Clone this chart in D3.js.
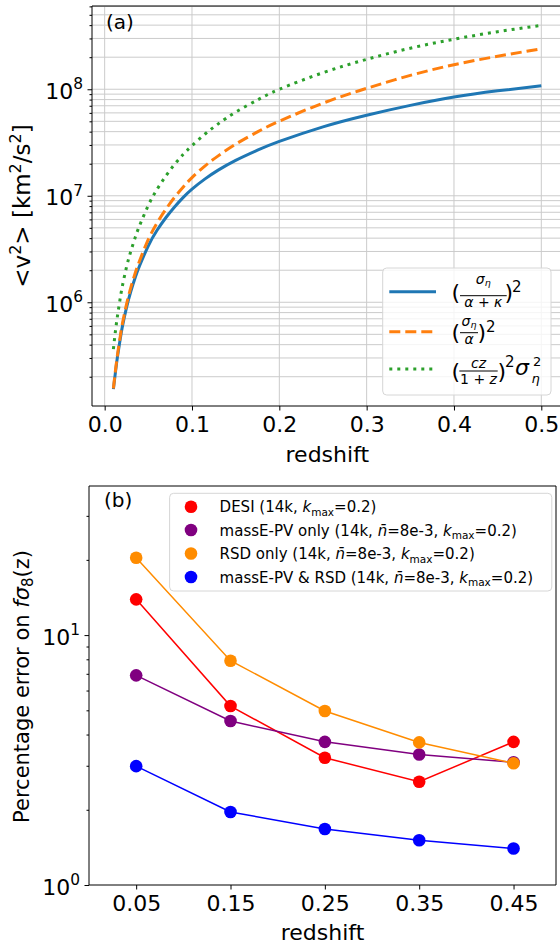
<!DOCTYPE html>
<html><head><meta charset="utf-8">
<script src="https://cdn.jsdelivr.net/npm/d3@7"></script>
<style>body{margin:0;background:#fff}svg{display:block}text{font-family:"DejaVu Sans",sans-serif;fill:#000}</style>
</head><body><svg id="c" width="560" height="945"></svg>
<script>
// ---------- Panel (a) data: <v^2> [km^2/s^2] vs redshift ----------
const zGrid       = [0.01,0.0125,0.015,0.0175,0.02,0.025,0.03,0.035,0.04,0.05,0.06,0.07,0.08,0.09,0.1,0.115,0.13,0.15,0.175,0.2,0.25,0.3,0.35,0.4,0.45,0.5];
const vAlphaKappa = [1.53e5,2.26e5,3.21e5,4.35e5,5.75e5,8.91e5,1.27e6,1.71e6,2.20e6,3.39e6,4.74e6,6.22e6,7.86e6,9.66e6,1.155e7,1.44e7,1.74e7,2.15e7,2.68e7,3.24e7,4.44e7,5.71e7,7.06e7,8.45e7,9.66e7,1.08e8];
const vAlpha      = [1.55e5,2.34e5,3.35e5,4.57e5,6.10e5,9.55e5,1.38e6,1.88e6,2.45e6,3.89e6,5.56e6,7.46e6,9.66e6,1.21e7,1.48e7,1.91e7,2.37e7,3.05e7,3.98e7,5.01e7,7.41e7,1.02e8,1.35e8,1.70e8,2.04e8,2.40e8];
const vCz         = [3.63e5,5.50e5,7.76e5,1.05e6,1.38e6,2.14e6,3.02e6,4.07e6,5.25e6,8.13e6,1.15e7,1.53e7,1.97e7,2.45e7,2.95e7,3.80e7,4.73e7,6.10e7,7.94e7,1.00e8,1.43e8,1.91e8,2.43e8,2.95e8,3.47e8,3.98e8];
const xTicksA = [0,0.1,0.2,0.3,0.4,0.5];
const yMajorA = [1e6,1e7,1e8];

// ---------- Panel (b) data: percentage error on f sigma8 ----------
const zBins    = [0.05,0.15,0.25,0.35,0.45];
const desi     = [13.9,5.2,3.23,2.59,3.74];
const massPV   = [6.9,4.53,3.74,3.33,3.10];
const rsdOnly  = [20.4,7.9,4.97,3.72,3.07];
const combined = [2.99,1.96,1.675,1.51,1.40];
const xTicksB  = [0.05,0.15,0.25,0.35,0.45];
const yMajorB  = [1,10];

const svg = d3.select("#c");
const FS = 22;

function minorLogTicks(dom){
  const out=[];
  for(let e=Math.floor(Math.log10(dom[0]));e<=Math.ceil(Math.log10(dom[1]));e++){
    for(let m=1;m<10;m++){const v=m*Math.pow(10,e); if(v>=dom[0]&&v<=dom[1]) out.push(v);}
  }
  return out;
}
function supLabel(g,x,y,base,exp,size){
  const t=g.append("text").attr("x",x).attr("y",y).attr("text-anchor","end").style("font-size",size+"px");
  t.append("tspan").text(base);
  t.append("tspan").attr("dy",-0.44*size).style("font-size",(size*0.7)+"px").text(exp);
}

// ================= PANEL A =================
const A={l:92,r:562.7,t:6,b:406};
const xA=d3.scaleLinear().domain([-0.0145,0.5245]).range([A.l,A.r]);
const yDomA=[1.062e5,6.05e8];
const yA=d3.scaleLog().domain(yDomA).range([A.b,A.t]);
const gA=svg.append("g");
const allYA=minorLogTicks(yDomA);
gA.selectAll(".gy").data(allYA).enter().append("line")
  .attr("x1",A.l).attr("x2",A.r).attr("y1",d=>yA(d)).attr("y2",d=>yA(d))
  .attr("stroke","#cbcbcb").attr("stroke-width",1);
gA.selectAll(".gx").data(xTicksA).enter().append("line")
  .attr("x1",d=>xA(d)).attr("x2",d=>xA(d)).attr("y1",A.t).attr("y2",A.b)
  .attr("stroke","#cbcbcb").attr("stroke-width",1);

const lineA=d3.line().x((d,i)=>xA(zGrid[i])).y(d=>yA(d)).curve(d3.curveNatural);
gA.append("path").attr("d",lineA(vAlphaKappa)).attr("fill","none").attr("stroke","#1f77b4").attr("stroke-width",3);
gA.append("path").attr("d",lineA(vAlpha)).attr("fill","none").attr("stroke","#ff7f0e").attr("stroke-width",3).attr("stroke-dasharray","11,5");
gA.append("path").attr("d",lineA(vCz)).attr("fill","none").attr("stroke","#2ca02c").attr("stroke-width",3).attr("stroke-dasharray","3,5");

const axXA=gA.append("g").attr("transform",`translate(0,${A.b})`)
  .call(d3.axisBottom(xA).tickValues(xTicksA).tickFormat(d3.format(".1f")).tickSize(4.5).tickPadding(6));
const axYAmin=gA.append("g").attr("transform",`translate(${A.l},0)`)
  .call(d3.axisLeft(yA).tickValues(allYA.filter(v=>!yMajorA.includes(v))).tickFormat("").tickSize(2.5));
const axYA=gA.append("g").attr("transform",`translate(${A.l},0)`)
  .call(d3.axisLeft(yA).tickValues(yMajorA).tickFormat("").tickSize(4.5));
[axXA,axYA,axYAmin].forEach(a=>{a.select(".domain").remove();a.selectAll("line").attr("stroke","#000");a.selectAll("text").style("font-size",FS+"px").style("font-family","DejaVu Sans");});
yMajorA.forEach(v=>supLabel(gA,A.l-9,yA(v)+0.44*FS,"10",String(Math.round(Math.log10(v))),FS));
gA.append("path").attr("d",`M${A.l},${A.t}H${A.r}V${A.b}H${A.l}Z`).attr("fill","none").attr("stroke","#000").attr("stroke-width",1);
gA.append("text").attr("x",(A.l+A.r)/2).attr("y",461.5).attr("text-anchor","middle").style("font-size",FS+"px").text("redshift");
{
  const t=gA.append("text").attr("transform",`translate(30,${(A.t+A.b)/2}) rotate(-90)`).attr("text-anchor","middle").style("font-size","23px");
  t.append("tspan").text("<v");
  t.append("tspan").attr("dy",-9.5).style("font-size","16px").text("2");
  t.append("tspan").attr("dy",9.5).text("> [km");
  t.append("tspan").attr("dy",-9.5).style("font-size","16px").text("2");
  t.append("tspan").attr("dy",9.5).text("/s");
  t.append("tspan").attr("dy",-9.5).style("font-size","16px").text("2");
  t.append("tspan").attr("dy",9.5).text("]");
}
gA.append("text").attr("x",106).attr("y",29).style("font-size","20px").text("(a)");

// legend A
{
  const lg=gA.append("g");
  lg.append("rect").attr("x",382.7).attr("y",268).attr("width",168.3).attr("height",127).attr("rx",4)
    .attr("fill","#fff").attr("fill-opacity",0.8).attr("stroke","#d6d6d6").attr("stroke-width",1);
  const rows=[{c:"#1f77b4",d:null,y:291.7},{c:"#ff7f0e",d:"11,5",y:331.7},{c:"#2ca02c",d:"3,5",y:369}];
  rows.forEach(r=>{const l=lg.append("line").attr("x1",389.3).attr("x2",436).attr("y1",r.y).attr("y2",r.y).attr("stroke",r.c).attr("stroke-width",3); if(r.d) l.attr("stroke-dasharray",r.d);});
  const T=(x,y,size,anchor)=>lg.append("text").attr("x",x).attr("y",y).attr("text-anchor",anchor||"start").style("font-size",size+"px");
  const bar=(x1,x2,y)=>lg.append("line").attr("x1",x1).attr("x2",x2).attr("y1",y).attr("y2",y).attr("stroke","#000").attr("stroke-width",1);
  function sigEta(t){t.append("tspan").style("font-style","italic").text("σ");t.append("tspan").attr("dy",2).style("font-size","9.5px").style("font-style","italic").text("η");}
  // row 1
  T(451.5,300.4,22).text("(");
  sigEta(T(483.3,283.5,14,"middle"));
  bar(460,506.7,295.7);
  {const t=T(483.3,306.8,14,"middle");t.append("tspan").style("font-style","italic").text("α");t.append("tspan").text(" + ");t.append("tspan").style("font-style","italic").text("κ");}
  T(504.5,300.4,22).text(")");
  T(512,291.5,15).text("2");
  // row 2
  T(451.5,340.4,22).text("(");
  sigEta(T(469,326.3,14,"middle"));
  bar(460,478,332.7);
  T(469,343.6,14,"middle").style("font-style","italic").text("α");
  T(477.5,340.4,22).text(")");
  T(486,331.7,15).text("2");
  // row 3
  T(451.5,379,22).text("(");
  T(478.5,368.3,14,"middle").style("font-style","italic").text("cz");
  bar(459.3,497.7,371);
  {const t=T(478.5,383.6,14,"middle");t.append("tspan").text("1 + ");t.append("tspan").style("font-style","italic").text("z");}
  T(497.5,379,22).text(")");
  T(505,366.5,15).text("2");
  T(515,375,22).style("font-style","italic").text("σ");
  T(531.5,382.5,13).style("font-style","italic").text("η");
  T(533,365.5,13).text("2");
}

// ================= PANEL B =================
const B={l:89,r:556,t:486,b:885};
const xB=d3.scaleLinear().domain([0,0.495]).range([B.l,B.r]);
const yDomB=[1,39.5];
const yB=d3.scaleLog().domain(yDomB).range([B.b,B.t]);
const gB=svg.append("g");
const allYB=minorLogTicks(yDomB);
const axXB=gB.append("g").attr("transform",`translate(0,${B.b})`)
  .call(d3.axisBottom(xB).tickValues(xTicksB).tickFormat(d3.format(".2f")).tickSize(4.5).tickPadding(6));
const axYBmin=gB.append("g").attr("transform",`translate(${B.l},0)`)
  .call(d3.axisLeft(yB).tickValues(allYB.filter(v=>!yMajorB.includes(v))).tickFormat("").tickSize(2.5));
const axYB=gB.append("g").attr("transform",`translate(${B.l},0)`)
  .call(d3.axisLeft(yB).tickValues(yMajorB).tickFormat("").tickSize(4.5));
[axXB,axYB,axYBmin].forEach(a=>{a.select(".domain").remove();a.selectAll("line").attr("stroke","#000");a.selectAll("text").style("font-size",FS+"px").style("font-family","DejaVu Sans");});
yMajorB.forEach(v=>supLabel(gB,B.l-9,yB(v)+0.44*FS,"10",String(Math.round(Math.log10(v))),FS));
gB.append("path").attr("d",`M${B.l},${B.t}H${B.r}V${B.b}H${B.l}Z`).attr("fill","none").attr("stroke","#000").attr("stroke-width",1);

const seriesB=[
  {name:"desi",vals:desi,color:"red"},
  {name:"pv",vals:massPV,color:"purple"},
  {name:"rsd",vals:rsdOnly,color:"darkorange"},
  {name:"comb",vals:combined,color:"blue"}];
const lineB=d3.line().x((d,i)=>xB(zBins[i])).y(d=>yB(d));
seriesB.forEach(s=>{
  const g=gB.append("g");
  g.append("path").attr("d",lineB(s.vals)).attr("fill","none").attr("stroke",s.color).attr("stroke-width",1.5);
  g.selectAll("circle").data(s.vals).enter().append("circle")
    .attr("cx",(d,i)=>xB(zBins[i])).attr("cy",d=>yB(d)).attr("r",6.3).attr("fill",s.color);
});

gB.append("text").attr("x",(B.l+B.r)/2).attr("y",940).attr("text-anchor","middle").style("font-size",FS+"px").text("redshift");
{
  const t=gB.append("text").attr("transform",`translate(29,${(B.t+B.b)/2+1}) rotate(-90)`).attr("text-anchor","middle").style("font-size","21px");
  t.append("tspan").text("Percentage error on ");
  t.append("tspan").style("font-style","italic").text("fσ");
  t.append("tspan").attr("dy",4).style("font-size","15px").text("8");
  t.append("tspan").attr("dy",-4).text("(z)");
}
gB.append("text").attr("x",104).attr("y",507).style("font-size","20px").text("(b)");

// legend B
{
  const lg=gB.append("g");
  lg.append("rect").attr("x",169.6).attr("y",493.3).attr("width",382.2).attr("height",97.7).attr("rx",4)
    .attr("fill","#fff").attr("fill-opacity",0.8).attr("stroke","#d6d6d6").attr("stroke-width",1);
  const rowsY=[506.7,530,553.5,577];
  const labels=[
    ["DESI (14k, ",null],
    ["massE-PV only (14k, ","n"],
    ["RSD only (14k, ","n"],
    ["massE-PV & RSD (14k, ","n"]];
  seriesB.forEach((s,i)=>{
    lg.append("circle").attr("cx",191).attr("cy",rowsY[i]).attr("r",6.3).attr("fill",s.color);
    const t=lg.append("text").attr("x",219.6).attr("y",rowsY[i]+5.5).style("font-size","15px");
    t.append("tspan").text(labels[i][0]);
    if(labels[i][1]){
      t.append("tspan").style("font-style","italic").text("n\u0304");
      t.append("tspan").text("=8e-3, ");
    }
    t.append("tspan").style("font-style","italic").text("k");
    t.append("tspan").attr("dy",3.5).style("font-size","10.5px").text("max");
    t.append("tspan").attr("dy",-3.5).text("=0.2)");
  });
}
</script></body></html>
